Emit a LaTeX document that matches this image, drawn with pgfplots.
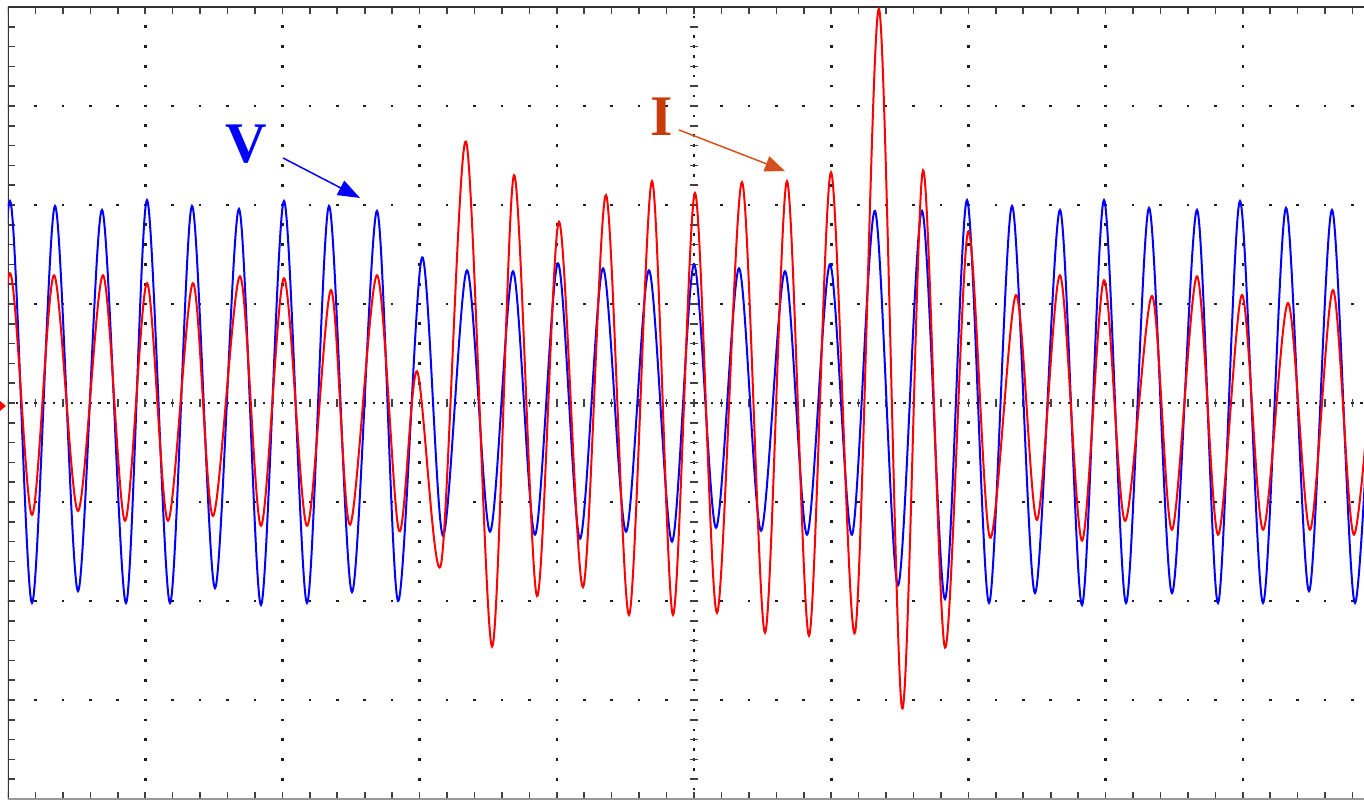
\documentclass[border=0pt]{standalone}
\usepackage{pgfplots}
\pgfplotsset{compat=1.18}
\usepackage{fontspec}
\setmainfont{Liberation Serif}
\usetikzlibrary{arrows.meta}
\definecolor{gridc}{RGB}{30,30,30}
\definecolor{icol}{RGB}{200,60,10}
\definecolor{iarrow}{RGB}{212,80,30}
\begin{document}
\begin{tikzpicture}
\begin{axis}[
  x=0.5bp, y=49.5bp,
  xmin=8, xmax=1364, ymin=-4, ymax=4,
  axis line style={draw=none},
  ticks=none,
  clip=true,
]
% dotted major grid
\draw[gridc, line width=1.3bp, line cap=rect, dash pattern=on 0.01bp off 9.89bp]
  \foreach \xx in {145.2,282.4,419.6,556.8,831.2,968.4,1105.6,1242.8} {(axis cs:\xx,-4) -- (axis cs:\xx,4)};
\draw[gridc, line width=1.3bp, line cap=rect, dash pattern=on 0.01bp off 13.71bp]
  \foreach \yy in {-3,-2,-1,1,2,3} {(axis cs:8,\yy) -- (axis cs:1364,\yy)};
% centre lines
\draw[gridc, line width=1.2bp, line cap=rect, dash pattern=on 0.01bp off 4.94bp]
  (axis cs:694,-4) -- (axis cs:694,4);
\draw[gridc, line width=1.2bp, line cap=rect, dash pattern=on 0.01bp off 4.563bp]
  (axis cs:8,0) -- (axis cs:1364,0);
\draw[gridc!85, line width=0.8bp]
  \foreach \j in {-20,...,20} {([xshift=-2.2bp]axis cs:694,{\j/5}) -- ([xshift=2.2bp]axis cs:694,{\j/5})};
\draw[gridc!85, line width=0.8bp]
  \foreach \i in {0,...,49} {([yshift=-2.2bp]axis cs:{8+27.44*\i},0) -- ([yshift=2.2bp]axis cs:{8+27.44*\i},0)};
% frame ticks
\draw[gridc!85, line width=0.8bp]
  \foreach \j in {-20,...,20} {(axis cs:8,{\j/5}) -- ([xshift=3.5bp]axis cs:8,{\j/5})};
\draw[gridc!85, line width=0.8bp]
  \foreach \i in {0,...,49} {(axis cs:{8+27.44*\i},4) -- ([yshift=-3.5bp]axis cs:{8+27.44*\i},4) (axis cs:{8+27.44*\i},-4) -- ([yshift=3.5bp]axis cs:{8+27.44*\i},-4)};
% frame
\draw[black!80, line width=1.4bp] (axis cs:1364,4) -- (axis cs:8,4) -- (axis cs:8,-4);
\draw[black!40, line width=1.0bp] (axis cs:8,-4) -- (axis cs:1364,-4);

% V (blue)
\addplot[blue, line width=1bp, smooth, tension=0.5] coordinates {
(-13,-2.0) (10,2.04) (32,-2.02) (55,1.99) (78,-1.90) (102,1.95) (126,-2.02) (147,2.05) (170,-2.02) (192,1.99) (215,-1.87) (239,1.96) (261,-2.04) (284,2.04) (307,-2.02) (329,1.99) (352,-1.91) (377,1.94) (398,-2.0) (422,1.47) (443,-1.34) (467,1.34) (490,-1.30) (513,1.33) (535,-1.33) (558,1.41) (580,-1.37) (603,1.36) (626,-1.30) (649,1.34) (672,-1.40) (694,1.40) (716,-1.26) (739,1.36) (761,-1.29) (785,1.33) (807,-1.33) (830,1.40) (852,-1.33) (875,1.94) (898,-1.84) (922,1.94) (945,-1.98) (967,2.05) (989,-2.02) (1012,1.99) (1035,-1.92) (1060,1.95) (1082,-2.04) (1104,2.05) (1126,-2.02) (1149,1.97) (1172,-1.92) (1197,1.95) (1218,-2.02) (1240,2.04) (1263,-2.02) (1286,1.97) (1309,-1.90) (1332,1.95) (1355,-2.02) (1378,1.98)
};
% I (red)
\addplot[red, line width=1bp, smooth, tension=0.5] coordinates {
(-13,-1.15) (10,1.31) (32,-1.13) (54,1.29) (78,-1.09) (103,1.29) (125,-1.19) (147,1.21) (168,-1.19) (193,1.21) (213,-1.14) (240,1.28) (261,-1.24) (284,1.26) (307,-1.24) (331,1.14) (350,-1.23) (377,1.29) (399,-1.29) (417,0.32) (441,-1.63) (466,2.64) (492,-2.46) (514,2.30) (537,-1.95) (559,1.83) (583,-1.86) (606,2.10) (629,-2.14) (652,2.24) (673,-2.14) (695,2.12) (717,-2.12) (742,2.23) (765,-2.32) (787,2.24) (809,-2.35) (831,2.33) (855,-2.32) (879,3.98) (902,-3.08) (923,2.35) (945,-2.47) (968,1.73) (990,-1.36) (1016,1.09) (1037,-1.18) (1060,1.29) (1082,-1.39) (1104,1.24) (1125,-1.19) (1152,1.08) (1172,-1.28) (1197,1.28) (1218,-1.33) (1242,1.09) (1263,-1.28) (1288,1.01) (1310,-1.28) (1333,1.14) (1354,-1.33) (1378,1.2)
};

% annotations
\node[text=blue, font=\bfseries\fontsize{28.7bp}{30bp}\selectfont, inner sep=0pt] at (axis cs:246,2.616) {V};
\draw[blue, line width=0.75bp, -{Triangle[length=11bp,width=8bp]}] (axis cs:283,2.475) -- (axis cs:360,2.071);
\node[text=icol, font=\bfseries\fontsize{28.7bp}{30bp}\selectfont, inner sep=0pt] at (axis cs:662,2.889) {I};
\draw[iarrow, line width=0.75bp, -{Triangle[length=10bp,width=8bp]}] (axis cs:679,2.758) -- (axis cs:785,2.343);

\coordinate (SW) at (axis cs:8,-4);
\coordinate (NE) at (axis cs:1364,4);
\coordinate (TR) at (axis cs:8,-0.03);
\end{axis}
\fill[red] ([xshift=-4bp,yshift=2.5bp]TR) -- ([xshift=-1bp]TR) -- ([xshift=-4bp,yshift=-2.5bp]TR) -- cycle;
\pgfresetboundingbox
\path[use as bounding box] ([xshift=-4bp,yshift=-1bp]SW) rectangle ([yshift=3.5bp]NE);
\end{tikzpicture}
\end{document}
